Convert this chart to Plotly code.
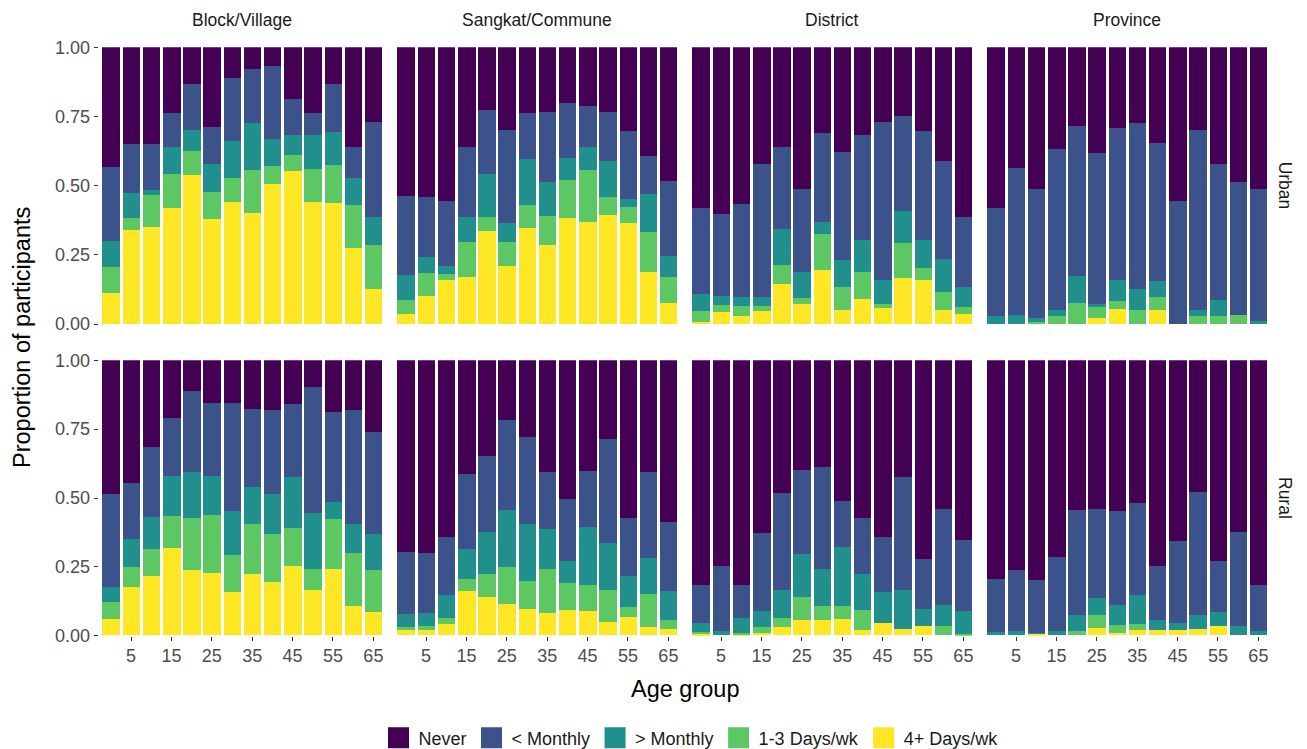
import numpy as np
import plotly.graph_objects as go

# ---------------- data ----------------
AGES = list(range(0, 70, 5))
TICK_AGES = [5, 15, 25, 35, 45, 55, 65]
CATEGORIES = ["Never", "< Monthly", "> Monthly", "1-3 Days/wk", "4+ Days/wk"]
COLORS = ["#440154", "#3B528B", "#21908C", "#5DC863", "#FDE725"]
COLUMNS = ["Block/Village", "Sangkat/Commune", "District", "Province"]
ROWS = ["Urban", "Rural"]

# Cumulative proportions (top of each stacked segment, from the bottom):
# [top of "4+ Days/wk", top of "1-3 Days/wk", top of "> Monthly", top of "< Monthly"]
URBAN_BLOCK = [
    [0.111, 0.340, 0.349, 0.419, 0.537, 0.377, 0.441, 0.401, 0.506, 0.553, 0.439, 0.435, 0.275, 0.125],
    [0.205, 0.381, 0.466, 0.541, 0.625, 0.477, 0.527, 0.554, 0.569, 0.610, 0.558, 0.575, 0.430, 0.284],
    [0.300, 0.473, 0.482, 0.639, 0.700, 0.578, 0.660, 0.724, 0.667, 0.681, 0.683, 0.694, 0.527, 0.386],
    [0.565, 0.648, 0.648, 0.760, 0.866, 0.712, 0.887, 0.919, 0.933, 0.812, 0.760, 0.867, 0.640, 0.728],
]
URBAN_COMMUNE = [
    [0.036, 0.099, 0.159, 0.167, 0.336, 0.207, 0.345, 0.283, 0.383, 0.369, 0.393, 0.363, 0.187, 0.075],
    [0.087, 0.183, 0.181, 0.296, 0.384, 0.294, 0.429, 0.390, 0.520, 0.554, 0.457, 0.420, 0.333, 0.169],
    [0.175, 0.241, 0.207, 0.386, 0.541, 0.364, 0.594, 0.512, 0.600, 0.640, 0.587, 0.449, 0.470, 0.246],
    [0.460, 0.457, 0.445, 0.637, 0.773, 0.700, 0.761, 0.766, 0.796, 0.786, 0.764, 0.695, 0.607, 0.516],
]
URBAN_DISTRICT = [
    [0.005, 0.041, 0.028, 0.047, 0.143, 0.072, 0.195, 0.048, 0.090, 0.058, 0.165, 0.157, 0.049, 0.034],
    [0.045, 0.067, 0.063, 0.065, 0.211, 0.093, 0.323, 0.133, 0.187, 0.071, 0.293, 0.200, 0.113, 0.059],
    [0.106, 0.100, 0.098, 0.098, 0.341, 0.186, 0.366, 0.229, 0.302, 0.157, 0.406, 0.302, 0.235, 0.134],
    [0.418, 0.398, 0.431, 0.578, 0.637, 0.486, 0.690, 0.622, 0.681, 0.728, 0.751, 0.695, 0.589, 0.384],
]
URBAN_PROVINCE = [
    [0.000, 0.000, 0.000, 0.000, 0.000, 0.020, 0.053, 0.000, 0.048, 0.000, 0.000, 0.000, 0.000, 0.000],
    [0.000, 0.000, 0.007, 0.027, 0.075, 0.059, 0.083, 0.049, 0.096, 0.000, 0.027, 0.029, 0.031, 0.000],
    [0.027, 0.031, 0.020, 0.051, 0.173, 0.071, 0.159, 0.127, 0.153, 0.000, 0.051, 0.087, 0.031, 0.010],
    [0.419, 0.561, 0.487, 0.631, 0.716, 0.616, 0.707, 0.725, 0.654, 0.445, 0.701, 0.577, 0.511, 0.488],
]
RURAL_BLOCK = [
    [0.059, 0.176, 0.215, 0.317, 0.237, 0.228, 0.157, 0.224, 0.195, 0.253, 0.166, 0.240, 0.107, 0.084],
    [0.121, 0.248, 0.314, 0.433, 0.425, 0.438, 0.293, 0.404, 0.368, 0.391, 0.241, 0.423, 0.301, 0.238],
    [0.174, 0.350, 0.431, 0.579, 0.592, 0.577, 0.452, 0.540, 0.515, 0.575, 0.444, 0.484, 0.406, 0.368],
    [0.513, 0.554, 0.685, 0.789, 0.886, 0.844, 0.844, 0.823, 0.817, 0.840, 0.901, 0.810, 0.817, 0.737],
]
RURAL_COMMUNE = [
    [0.021, 0.018, 0.040, 0.160, 0.140, 0.115, 0.096, 0.082, 0.091, 0.088, 0.047, 0.067, 0.031, 0.024],
    [0.030, 0.035, 0.062, 0.206, 0.223, 0.247, 0.196, 0.241, 0.190, 0.182, 0.166, 0.102, 0.149, 0.057],
    [0.076, 0.081, 0.148, 0.314, 0.375, 0.455, 0.403, 0.385, 0.271, 0.395, 0.335, 0.215, 0.282, 0.162],
    [0.303, 0.299, 0.358, 0.585, 0.650, 0.781, 0.719, 0.594, 0.495, 0.596, 0.712, 0.425, 0.593, 0.413],
]
RURAL_DISTRICT = [
    [0.006, 0.000, 0.005, 0.010, 0.030, 0.057, 0.057, 0.059, 0.021, 0.045, 0.023, 0.033, 0.000, 0.000],
    [0.013, 0.000, 0.008, 0.030, 0.065, 0.139, 0.108, 0.105, 0.091, 0.045, 0.023, 0.033, 0.035, 0.006],
    [0.045, 0.015, 0.062, 0.090, 0.166, 0.295, 0.241, 0.320, 0.224, 0.157, 0.166, 0.096, 0.110, 0.087],
    [0.182, 0.253, 0.182, 0.373, 0.516, 0.599, 0.611, 0.487, 0.427, 0.356, 0.574, 0.277, 0.460, 0.347],
]
RURAL_PROVINCE = [
    [0.000, 0.000, 0.006, 0.000, 0.000, 0.028, 0.010, 0.021, 0.021, 0.021, 0.023, 0.033, 0.000, 0.000],
    [0.000, 0.000, 0.006, 0.000, 0.017, 0.075, 0.036, 0.042, 0.021, 0.021, 0.023, 0.033, 0.000, 0.000],
    [0.013, 0.015, 0.008, 0.017, 0.073, 0.136, 0.110, 0.148, 0.057, 0.045, 0.073, 0.085, 0.035, 0.017],
    [0.205, 0.237, 0.200, 0.283, 0.455, 0.458, 0.452, 0.482, 0.253, 0.343, 0.519, 0.270, 0.375, 0.182],
]

PANELS = [
    [URBAN_BLOCK, URBAN_COMMUNE, URBAN_DISTRICT, URBAN_PROVINCE],
    [RURAL_BLOCK, RURAL_COMMUNE, RURAL_DISTRICT, RURAL_PROVINCE],
]

# ---------------- layout geometry (pixels) ----------------
W, H = 1307, 749
COL_PX = [(98.7, 385.5), (393.7, 680.5), (688.7, 975.5), (983.7, 1270.5)]
ROW_PX = [(47.3, 324.0), (360.3, 635.7)]
FONT = "Liberation Sans, Arial, sans-serif"
TICK_COLOR = "#4D4D4D"
TICK_SIZE = 18
STRIP_SIZE = 17.5
TITLE_SIZE = 23.5


def segments(cum):
    c = np.vstack([np.zeros(len(AGES)), np.array(cum, dtype=float), np.ones(len(AGES))])
    d = np.diff(c, axis=0)  # rows: 4+, 1-3, >M, <M, Never
    return np.clip(d, 0, None)


fig = go.Figure()
layout = dict(
    width=W, height=H, autosize=False,
    margin=dict(l=0, r=0, t=0, b=0, pad=0, autoexpand=False),
    paper_bgcolor="white", plot_bgcolor="white",
    barmode="stack", bargap=0,
    font=dict(family=FONT, color="#1A1A1A"),
    showlegend=True,
)

annotations = []
k = 0
for r, row_name in enumerate(ROWS):
    for c, col_name in enumerate(COLUMNS):
        k += 1
        sfx = "" if k == 1 else str(k)
        seg = segments(PANELS[r][c])
        # bottom to top: 4+ Days/wk ... Never
        for i in range(5):
            cat_idx = 4 - i
            fig.add_trace(go.Bar(
                x=AGES, y=seg[i], width=4.35,
                marker=dict(color=COLORS[cat_idx], line=dict(width=0)),
                name=CATEGORIES[cat_idx], showlegend=False,
                xaxis="x" + sfx, yaxis="y" + sfx,
                hovertemplate=CATEGORIES[cat_idx] + ": %{y:.2f}<extra></extra>",
            ))
        x0, x1 = COL_PX[c]
        y0, y1 = ROW_PX[r]
        bottom = (r == len(ROWS) - 1)
        left = (c == 0)
        layout["xaxis" + sfx] = dict(
            domain=[x0 / W, x1 / W], range=[-3, 68], anchor="y" + sfx,
            tickvals=TICK_AGES if bottom else [], showticklabels=bottom,
            ticks="outside" if bottom else "", ticklen=4, tickwidth=1, tickcolor="#333333",
            tickfont=dict(family=FONT, size=TICK_SIZE, color=TICK_COLOR),
            showgrid=False, zeroline=False, showline=False, fixedrange=True, automargin=False,
        )
        layout["yaxis" + sfx] = dict(
            domain=[1 - y1 / H, 1 - y0 / H], range=[0, 1], anchor="x" + sfx,
            tickvals=[0, 0.25, 0.5, 0.75, 1.0] if left else [],
            ticktext=["0.00", "0.25", "0.50", "0.75", "1.00"] if left else [],
            showticklabels=left,
            ticks="outside" if left else "", ticklen=4, tickwidth=1, tickcolor="#333333",
            tickfont=dict(family=FONT, size=TICK_SIZE, color=TICK_COLOR),
            showgrid=False, zeroline=False, showline=False, fixedrange=True, automargin=False,
        )

# column strip labels
for c, col_name in enumerate(COLUMNS):
    x0, x1 = COL_PX[c]
    annotations.append(dict(
        text=col_name, x=(x0 + x1) / 2 / W, y=1 - 20 / H, xref="paper", yref="paper",
        xanchor="center", yanchor="middle", showarrow=False,
        font=dict(family=FONT, size=STRIP_SIZE, color="#1A1A1A"),
    ))
# row strip labels
for r, row_name in enumerate(ROWS):
    y0, y1 = ROW_PX[r]
    annotations.append(dict(
        text=row_name, x=1285 / W, y=1 - (y0 + y1) / 2 / H, xref="paper", yref="paper",
        xanchor="center", yanchor="middle", showarrow=False, textangle=90,
        font=dict(family=FONT, size=STRIP_SIZE, color="#1A1A1A"),
    ))
# axis titles
annotations.append(dict(
    text="Proportion of participants", x=22 / W, y=1 - 338 / H, xref="paper", yref="paper",
    xanchor="center", yanchor="middle", showarrow=False, textangle=-90,
    font=dict(family=FONT, size=TITLE_SIZE, color="black"),
))
annotations.append(dict(
    text="Age group", x=684.6 / W, y=1 - 689 / H, xref="paper", yref="paper",
    xanchor="center", yanchor="middle", showarrow=False,
    font=dict(family=FONT, size=TITLE_SIZE, color="black"),
))
layout["annotations"] = annotations

# legend entries (order: Never ... 4+ Days/wk)
for cat, col in zip(CATEGORIES, COLORS):
    fig.add_trace(go.Scatter(
        x=[None], y=[None], mode="markers", name=cat,
        marker=dict(symbol="square", size=16, color=col, line=dict(color=col, width=5)),
        showlegend=True, hoverinfo="skip",
    ))

layout["legend"] = dict(
    orientation="h", x=691 / W, xanchor="center", y=1 - 738 / H, yanchor="middle",
    traceorder="normal", font=dict(family=FONT, size=18, color="#1A1A1A"),
    bgcolor="rgba(0,0,0,0)", itemclick=False, itemdoubleclick=False,
)

fig.update_layout(**layout)
fig.write_html(
    "out.html",
    config={"displayModeBar": False},
    post_script="document.body.style.margin='0';document.body.style.padding='0';",
)
